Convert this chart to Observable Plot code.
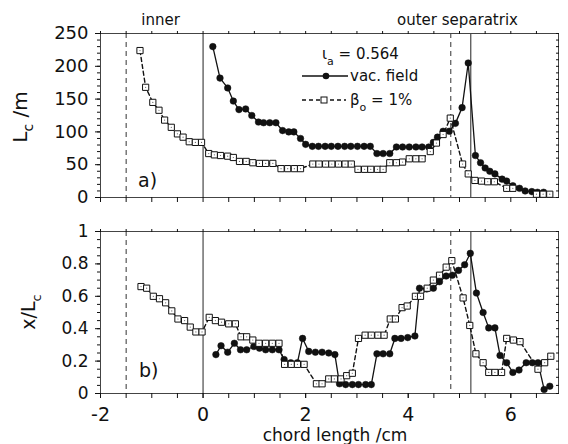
<!DOCTYPE html>
<html>
<head>
<meta charset="utf-8">
<script src="https://cdn.jsdelivr.net/npm/d3@7"></script>
<script src="https://cdn.jsdelivr.net/npm/@observablehq/plot@0.6"></script>
<style>
  html, body { margin: 0; padding: 0; background: #fff; }
  #chart { width: 568px; height: 444px; position: relative; overflow: hidden; }
  #chart svg { display: block; }
</style>
</head>
<body>
<div id="chart"></div>
<script>
// ---------- data ----------
// panel a) connection length L_c /m, vacuum field (filled dots)
const vacLcX = [0.19,0.33,0.48,0.59,0.70,0.83,0.95,1.08,1.18,1.30,1.42,1.55,1.67,1.77,1.90,2.00,
  2.13,2.25,2.38,2.50,2.63,2.76,2.88,3.01,3.14,3.26,3.39,3.51,3.64,3.77,3.89,4.02,4.15,4.27,4.40,
  4.49,4.57,4.68,4.80,4.92,5.05,5.17,5.31,5.41,5.50,5.59,5.69,5.83,5.92,6.04,6.17,6.28,6.41,6.52,6.64];
const vacLcY = [230,182,167,147,134,135,125,115,114,114,114,102,100,100,90,81,
  78,78,78,78,78,78,78,78,78,78,67,67,67,77,77,77,77,77,77,
  84,92,101,101,113,137,205,64,53,45,40,36,28,25,18,14,10,9,8,8];
// panel a) beta_0 = 1% (open squares)
const betaLcX = [-1.23,-1.12,-0.98,-0.86,-0.75,-0.62,-0.50,-0.39,-0.27,-0.15,-0.03,0.11,0.22,0.34,0.48,0.59,
  0.71,0.84,0.97,1.10,1.22,1.36,1.52,1.65,1.78,1.90,2.14,2.26,2.39,2.51,2.64,2.77,2.89,3.02,3.15,3.27,
  3.40,3.51,3.64,3.77,3.89,4.02,4.15,4.27,4.43,4.55,4.68,4.82,5.06,5.17,5.30,5.43,5.55,5.68,5.92,6.04,
  6.50,6.63,6.76];
const betaLcY = [224,168,145,133,118,107,97,92,85,84,84,67,65,64,63,61,
  55,55,53,52,52,52,44,44,44,44,51,51,51,51,51,51,51,43,43,43,
  43,43,53,53,54,59,59,59,70,83,96,121,51,36,26,25,24,24,14,14,
  5,5,5];
// panel b) x/L_c, vacuum field
const vacRelX = [0.25,0.35,0.48,0.61,0.73,0.85,0.99,1.10,1.22,1.35,1.48,1.58,1.71,1.84,1.94,2.06,2.19,2.32,
  2.45,2.57,2.66,2.78,2.91,3.03,3.17,3.28,3.39,3.51,3.64,3.74,3.86,3.99,4.13,4.22,4.36,4.49,4.61,4.74,
  4.86,4.98,5.10,5.21,5.33,5.46,5.57,5.69,5.79,5.92,6.04,6.16,6.30,6.42,6.53,6.65,6.76];
const vacRelY = [0.24,0.295,0.255,0.31,0.27,0.27,0.29,0.28,0.27,0.27,0.27,0.21,0.19,0.19,0.34,0.26,0.255,0.255,
  0.25,0.24,0.06,0.055,0.055,0.055,0.055,0.055,0.245,0.245,0.245,0.34,0.34,0.345,0.355,0.65,0.645,0.65,0.69,0.725,
  0.73,0.76,0.795,0.865,0.62,0.50,0.405,0.405,0.235,0.19,0.13,0.145,0.19,0.19,0.19,0.025,0.045];
// panel b) beta_0 = 1%
const betaRelX = [-1.21,-1.10,-0.97,-0.85,-0.73,-0.61,-0.49,-0.36,-0.25,-0.14,-0.02,0.12,0.24,0.36,0.50,0.63,
  0.74,0.85,0.97,1.09,1.22,1.35,1.48,1.59,1.72,1.84,1.97,2.21,2.32,2.45,2.56,2.69,2.80,2.91,3.03,3.16,
  3.28,3.41,3.53,3.65,3.75,3.88,3.98,4.14,4.24,4.37,4.49,4.61,4.74,4.85,5.07,5.20,5.32,5.46,5.57,5.69,
  5.82,5.92,6.05,6.18,6.53,6.66,6.78];
const betaRelY = [0.66,0.65,0.60,0.585,0.56,0.51,0.46,0.45,0.41,0.38,0.38,0.47,0.45,0.44,0.43,0.43,
  0.35,0.35,0.33,0.31,0.31,0.31,0.31,0.18,0.18,0.18,0.18,0.06,0.06,0.09,0.09,0.09,0.11,0.125,0.34,0.36,
  0.36,0.36,0.36,0.46,0.46,0.53,0.54,0.60,0.60,0.65,0.70,0.73,0.78,0.82,0.59,0.42,0.245,0.19,0.13,0.13,
  0.13,0.34,0.33,0.32,0.15,0.19,0.23];

// separatrix positions (cm): dashed = beta 1%, solid = vacuum
const sepDashed = [-1.5, 4.83];
const sepSolid = [0, 5.22];

// ticks
const xDomain = [-2, 6.93];
const xMinorTicks = d3.range(-2, 6.51, 0.5);
const xTickValues = [-2, 0, 2, 4, 6];
const xTickLabels = ["-2", "0", "2", "4", "6"];
const lcTickValues = [0, 50, 100, 150, 200, 250];
const lcTickLabels = ["0", "50", "100", "150", "200", "250"];
const lcMinorTicks = d3.range(0, 251, 10);
const relTickValues = [0, 0.2, 0.4, 0.6, 0.8, 1];
const relTickLabels = ["0", "0.2", "0.4", "0.6", "0.8", "1"];
const relMinorTicks = d3.range(0, 1.001, 0.05);

// labels / legend text
const topLabels = [{x: -0.82, text: "inner"}, {x: 4.97, text: "outer separatrix"}];
const iotaLabel = "0.564";
const seriesNames = ["vac. field", "1%"];

// ---------- build ----------
const zip = (xs, ys) => xs.map((x, i) => ({x, y: ys[i]}));
const vacLc = zip(vacLcX, vacLcY), betaLc = zip(betaLcX, betaLcY);
const vacRel = zip(vacRelX, vacRelY), betaRel = zip(betaRelX, betaRelY);
const FONT = "DejaVu Sans";
const INK = "#111";

function seriesMarks(vac, beta) {
  return [
    Plot.line(vac, {x: "x", y: "y", stroke: INK, strokeWidth: 1.3}),
    Plot.dot(vac, {x: "x", y: "y", r: 3.3, fill: INK, stroke: INK, strokeWidth: 0.5}),
    Plot.line(beta, {x: "x", y: "y", stroke: INK, strokeWidth: 1.4, strokeDasharray: "4,3"}),
    Plot.dot(beta, {x: "x", y: "y", symbol: "square", r: 3.5, fill: "white", stroke: INK, strokeWidth: 1}),
    Plot.dot(beta, {x: "x", y: "y", r: 0.6, fill: "#666"})
  ];
}

const fmt = (vals, labels) => d => labels[vals.indexOf(d)] ?? "";

const topPlot = Plot.plot({
  width: 568, height: 210,
  marginLeft: 100, marginRight: 10, marginTop: 33, marginBottom: 13,
  style: {fontFamily: FONT, color: INK, background: "white", overflow: "visible"},
  x: {domain: xDomain},
  y: {domain: [0, 250]},
  marks: [
    Plot.ruleX(sepDashed, {stroke: "#333", strokeWidth: 1, strokeDasharray: "5,4"}),
    Plot.ruleX(sepSolid, {stroke: "#222", strokeWidth: 1}),
    Plot.frame({stroke: "#444", strokeWidth: 1}),
    Plot.axisX({ticks: xMinorTicks, anchor: "bottom", tickSize: 5, tickFormat: () => "", label: null}),
    Plot.axisX({ticks: xMinorTicks, anchor: "top", tickSize: 3, tickFormat: () => "", label: null}),
    Plot.axisY({ticks: lcTickValues, anchor: "left", tickSize: 5, tickPadding: 7, fontSize: 18,
      tickFormat: fmt(lcTickValues, lcTickLabels), label: null}),
    Plot.axisY({ticks: lcMinorTicks, anchor: "left", tickSize: 3, tickFormat: () => "", label: null}),
    Plot.axisY({ticks: lcMinorTicks, anchor: "right", tickSize: -3, tickFormat: () => "", label: null}),
    ...seriesMarks(vacLc, betaLc)
  ]
});

const botPlot = Plot.plot({
  width: 568, height: 234,
  marginLeft: 100, marginRight: 10, marginTop: 21, marginBottom: 51,
  style: {fontFamily: FONT, color: INK, background: "white", overflow: "visible"},
  x: {domain: xDomain},
  y: {domain: [0, 1]},
  marks: [
    Plot.ruleX(sepDashed, {stroke: "#333", strokeWidth: 1, strokeDasharray: "5,4"}),
    Plot.ruleX(sepSolid, {stroke: "#777", strokeWidth: 1.6}),
    Plot.frame({stroke: "#444", strokeWidth: 1}),
    Plot.axisX({ticks: xMinorTicks, anchor: "bottom", tickSize: 5, tickFormat: () => "", label: null}),
    Plot.axisX({ticks: xTickValues, anchor: "bottom", tickSize: 5, tickPadding: 9, fontSize: 19,
      tickFormat: fmt(xTickValues, xTickLabels), label: null}),
    Plot.axisX({ticks: xMinorTicks, anchor: "top", tickSize: 3, tickFormat: () => "", label: null}),
    Plot.axisY({ticks: relTickValues, anchor: "left", tickSize: 5, tickPadding: 7, fontSize: 17,
      tickFormat: fmt(relTickValues, relTickLabels), label: null}),
    Plot.axisY({ticks: relMinorTicks, anchor: "left", tickSize: 3, tickFormat: () => "", label: null}),
    Plot.axisY({ticks: relMinorTicks, anchor: "right", tickSize: -3, tickFormat: () => "", label: null}),
    ...seriesMarks(vacRel, betaRel)
  ]
});

const chart = document.getElementById("chart");
chart.appendChild(topPlot);
chart.appendChild(botPlot);

// ---------- annotations ----------
const st = d3.select(topPlot), sb = d3.select(botPlot);
const xs = topPlot.scale("x");

// separatrix labels
topLabels.forEach(d => {
  st.append("text").attr("x", xs.apply(d.x)).attr("y", 25)
    .attr("text-anchor", "middle").attr("font-family", FONT).attr("font-size", 15)
    .attr("fill", INK).text(d.text);
});

// y-axis titles
const ylab1 = st.append("text").attr("transform", "translate(27,117) rotate(-90)")
  .attr("text-anchor", "middle").attr("font-family", FONT).attr("font-size", 20).attr("fill", INK);
ylab1.append("tspan").text("L");
ylab1.append("tspan").attr("dy", 6).attr("font-size", 14).text("c");
ylab1.append("tspan").attr("dy", -6).text(" /m");

const ylab2 = sb.append("text").attr("transform", "translate(35,102) rotate(-90)")
  .attr("text-anchor", "middle").attr("font-family", FONT).attr("font-size", 19).attr("fill", INK);
ylab2.append("tspan").text("x/L");
ylab2.append("tspan").attr("dy", 6).attr("font-size", 13).text("c");

// x-axis title
sb.append("text").attr("x", 335).attr("y", 231).attr("text-anchor", "middle")
  .attr("font-family", FONT).attr("font-size", 17).attr("fill", INK).text("chord length /cm");

// panel tags
st.append("text").attr("x", 138).attr("y", 187).attr("text-anchor", "start").attr("font-family", FONT)
  .attr("font-size", 19).attr("fill", INK).text("a)");
sb.append("text").attr("x", 139).attr("y", 167).attr("text-anchor", "start").attr("font-family", FONT)
  .attr("font-size", 19).attr("fill", INK).text("b)");

// legend
const lg = st.append("g").attr("font-family", FONT).attr("font-size", 15).attr("fill", INK)
  .attr("text-anchor", "start");
const l1 = lg.append("text").attr("x", 322).attr("y", 59);
l1.append("tspan").text("\u03B9");
l1.append("tspan").attr("dy", 6).attr("font-size", 11).text("a");
l1.append("tspan").attr("dy", -6).text(" = " + iotaLabel);

lg.append("line").attr("x1", 302).attr("x2", 348).attr("y1", 76).attr("y2", 76)
  .attr("stroke", INK).attr("stroke-width", 1.3);
lg.append("circle").attr("cx", 326).attr("cy", 76).attr("r", 3.3).attr("fill", INK);
lg.append("text").attr("x", 350).attr("y", 81).text(seriesNames[0]);

lg.append("line").attr("x1", 302).attr("x2", 346).attr("y1", 100).attr("y2", 100)
  .attr("stroke", INK).attr("stroke-width", 1.4).attr("stroke-dasharray", "4,3");
lg.append("rect").attr("x", 321).attr("y", 97).attr("width", 6).attr("height", 6)
  .attr("fill", "white").attr("stroke", INK);
const l3 = lg.append("text").attr("x", 350).attr("y", 105);
l3.append("tspan").text("\u03B2");
l3.append("tspan").attr("dy", 6).attr("font-size", 11).text("o");
l3.append("tspan").attr("dy", -6).text(" = " + seriesNames[1]);
</script>
</body>
</html>
